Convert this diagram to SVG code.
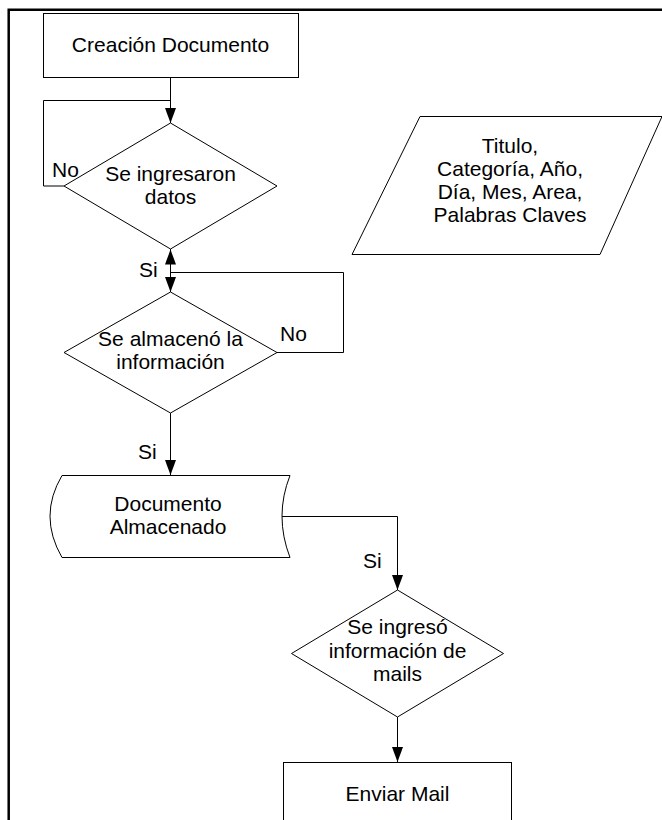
<svg xmlns="http://www.w3.org/2000/svg" width="662" height="820" viewBox="0 0 662 820">
<style>
  .shape { fill: #fff; stroke: #000; stroke-width: 1; }
  .conn { fill: none; stroke: #000; stroke-width: 1; }
  .arr { marker-end: url(#ah); }
  text { font-family: "Liberation Sans", Arial, sans-serif; font-size: 21px; fill: #000; }
  .c { text-anchor: middle; }
</style>
<defs>
  <marker id="ah" markerUnits="userSpaceOnUse" viewBox="0 0 15 11" markerWidth="15" markerHeight="11" refX="15" refY="5.5" orient="auto">
    <path d="M0,0 L15,5.5 L0,11 z" fill="#000"/>
  </marker>
</defs>
<rect width="662" height="820" fill="#fff"/>
<path d="M8.7,820 V9.7 H662" fill="none" stroke="#000" stroke-width="2.5"/>

<g id="connectors">
  <path class="conn arr" d="M170.5,77 V123"/>
  <path class="conn" d="M64,186 H43.5 V100.5 H170.5"/>
  <path class="conn arr" d="M170.5,249 V292"/>
  <path class="conn arr" d="M277,352.5 H343.5 V272.5 H170.5 V249.5"/>
  <path class="conn arr" d="M170.5,413 V475"/>
  <path class="conn arr" d="M282,516.5 H397.5 V590"/>
  <path class="conn arr" d="M397.5,717 V762"/>
</g>

<g id="labels">
  <text x="52" y="177">No</text>
  <text x="139" y="277">Si</text>
  <text x="280" y="341">No</text>
  <text x="138" y="459">Si</text>
  <text x="363" y="568">Si</text>
</g>

<g id="creacion">
  <rect class="shape" x="43.5" y="13.5" width="255" height="64"/>
  <text class="c" x="170.5" y="52">Creación Documento</text>
</g>

<g id="dec-datos">
  <polygon class="shape" points="170.5,123 277,186 170.5,249 64,186"/>
  <text class="c" x="170.5" y="181">Se ingresaron</text>
  <text class="c" x="170.5" y="204">datos</text>
</g>

<g id="datos-entrada">
  <polygon class="shape" points="420,116.5 662,116.5 600,254.5 352,254.5"/>
  <text class="c" x="510" y="153">Titulo,</text>
  <text class="c" x="510" y="176">Categoría, Año,</text>
  <text class="c" x="510" y="199">Día, Mes, Area,</text>
  <text class="c" x="510" y="222">Palabras Claves</text>
</g>

<g id="dec-almacenado">
  <polygon class="shape" points="170.5,292 277,352.5 170.5,413 64,352.5"/>
  <text class="c" x="170.5" y="346">Se almacenó la</text>
  <text class="c" x="170.5" y="369">información</text>
</g>

<g id="doc-almacenado">
  <path class="shape" d="M62,475.5 H290 Q274,516 290,557.5 H62 Q38,516 62,475.5 Z"/>
  <text class="c" x="168" y="511">Documento</text>
  <text class="c" x="168" y="534">Almacenado</text>
</g>

<g id="dec-mails">
  <polygon class="shape" points="397.5,590 503.5,653.5 397.5,717 291.5,653.5"/>
  <text class="c" x="397.5" y="634">Se ingresó</text>
  <text class="c" x="397.5" y="658">información de</text>
  <text class="c" x="397.5" y="681">mails</text>
</g>

<g id="enviar-mail">
  <rect class="shape" x="283.5" y="762.5" width="228" height="70"/>
  <text class="c" x="397.5" y="801">Enviar Mail</text>
</g>
</svg>
